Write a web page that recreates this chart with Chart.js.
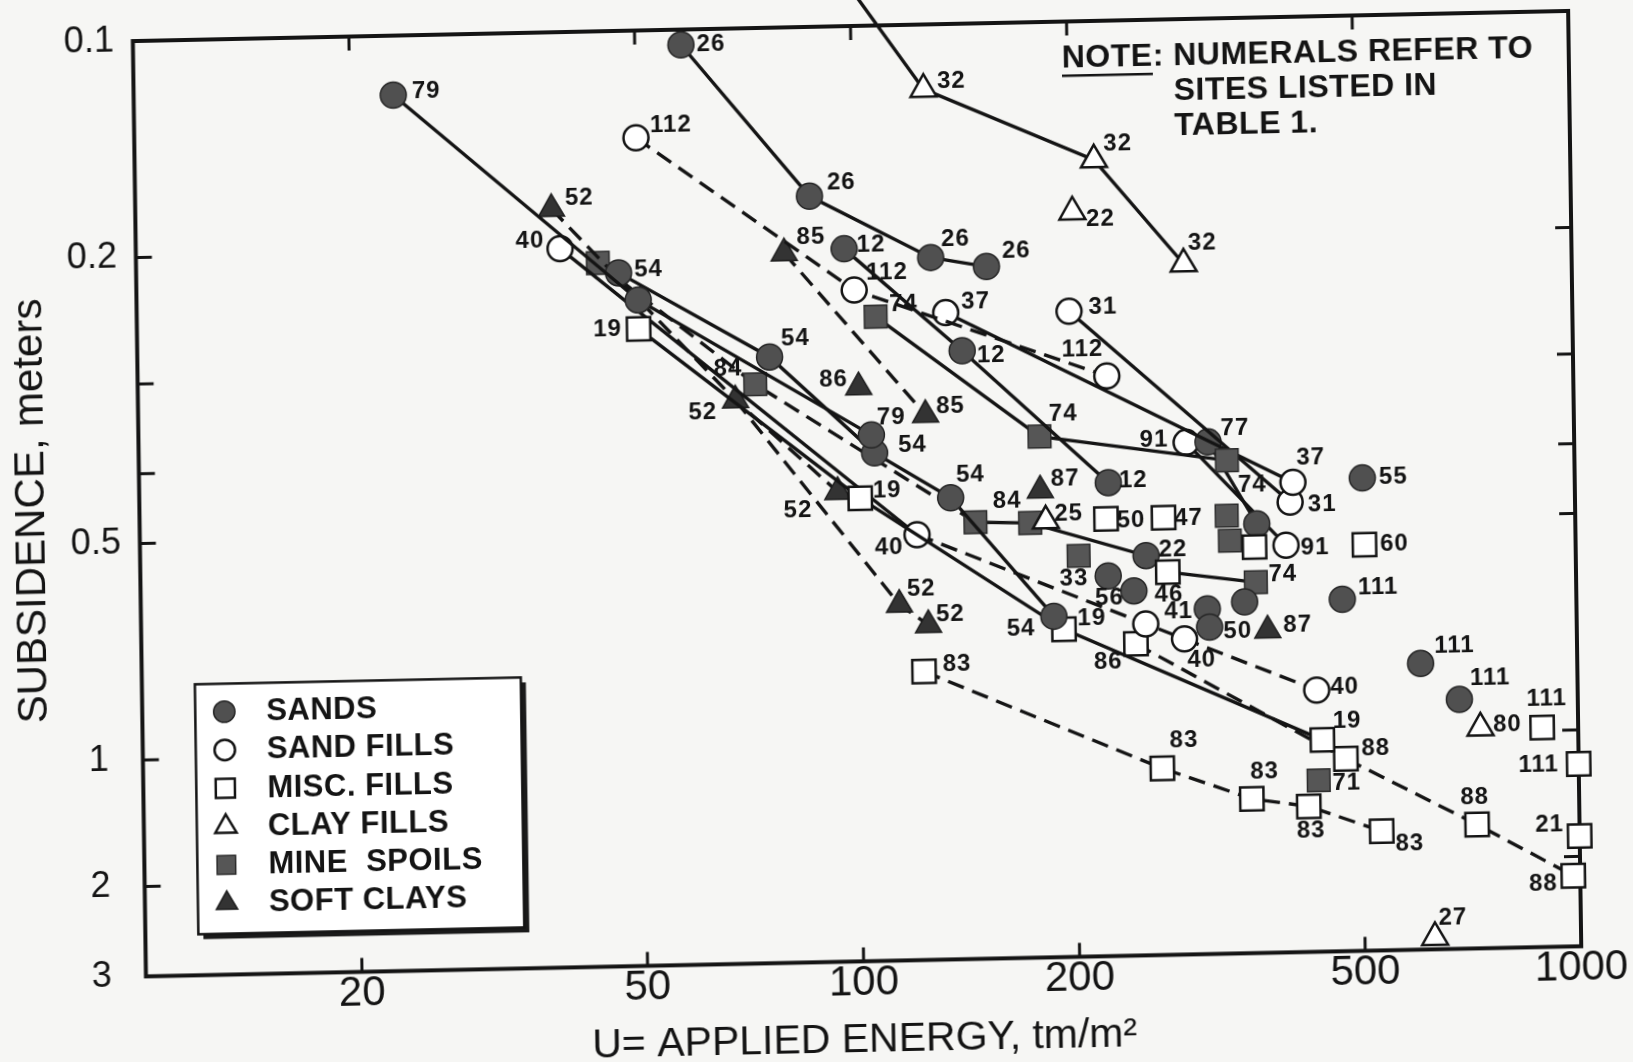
<!DOCTYPE html>
<html>
<head>
<meta charset="utf-8">
<script src="https://cdn.jsdelivr.net/npm/chart.js@4.4.0/dist/chart.umd.min.js"></script>
<style>
html, body { margin: 0; padding: 0; overflow: hidden; background: #f6f6f4; }
#wrap { position: relative; width: 1633px; height: 1062px; overflow: hidden; }
/* la figura original está escaneada ligeramente girada / sesgada */
#c { position: absolute; left: 0; top: 0; transform-origin: 858px 491px; transform: matrix(1, -0.021, 0.014, 1, 0, 0); }
</style>
</head>
<body>
<div id="wrap"><canvas id="c" width="1633" height="1062"></canvas></div>
<script>
// ===== Datos: [energía U (tm/m²), asentamiento (m)] =====
const xTicks = [20, 50, 100, 200, 500, 1000];
const yTicks = [0.1, 0.2, 0.5, 1, 2, 3];
const xMarks = [20, 50, 100, 200, 500];
const yMarks = [0.2, 0.3, 0.4, 0.5, 1, 2];

const site26 = [[58, 0.105], [87, 0.172], [128, 0.211], [153, 0.218]];
const site32 = [[102, 0.091], [126, 0.123], [217, 0.156], [288, 0.219]];
const site112 = [[50, 0.141], [100, 0.233], [224, 0.312]];
const site85 = [[80, 0.206], [125, 0.349]];
const site12 = [[97, 0.204], [141, 0.285], [224, 0.439]];
const site74 = [[107, 0.254], [180, 0.377], [328, 0.412]];
const site37 = [[134, 0.252], [405, 0.444]];
const site31 = [[199, 0.253], [401, 0.473]];
const site79 = [[23, 0.121], [50, 0.237], [105, 0.371]];
const site54 = [[47, 0.217], [76, 0.287], [106, 0.393], [135, 0.456], [187, 0.671]];
const site19 = [[50, 0.26], [101, 0.454], [193, 0.70], [440, 1.03]];
const site40 = [[39, 0.20], [121, 0.512], [284, 0.728], [433, 0.865]];
const site52a = [[38, 0.176], [68, 0.329], [94, 0.444]];
const site52b = [[68, 0.329], [114, 0.64], [125, 0.684]];
const site84 = [[44, 0.21], [72.5, 0.313], [146, 0.494]];
const chain84 = [[146, 0.494], [174, 0.497], [252, 0.556], [270, 0.587], [358, 0.61]];
const site83 = [[123, 0.794], [263, 1.20], [350, 1.44], [420, 1.51], [530, 1.73]];
const site88 = [[474, 1.16], [720, 1.69], [978, 2.19]];
const site86 = [[243, 0.737], [474, 1.16]];
const site77 = [[309, 0.388], [360, 0.506]];
const site91 = [[288, 0.388], [395, 0.543]];

// puntos sueltos, por tipo de suelo
const sandPts = [[506, 0.44], [223, 0.592], [242, 0.622], [345, 0.649], [306, 0.662], [308, 0.702], [472, 0.648], [605, 0.80], [684, 0.90]];
const sandTags = ['55', '56', '46', '', '', '50', '111', '111', '111'];
const sandFillPts = [[251, 0.692]];
const sandFillTags = ['41'];
const miscPts = [[222, 0.493], [267, 0.493], [357, 0.545], [508, 0.545], [1000, 1.23], [891, 0.99], [1000, 1.81]];
const miscTags = ['50', '47', '', '60', '111', '111', '21'];
const clayPts = [[202, 0.184], [183, 0.494], [731, 0.987], [626, 2.85]];
const clayTags = ['22', '25', '80', '27'];
const minePts = [[327, 0.492], [330, 0.533], [203, 0.554], [434, 1.31]];
const mineTags = ['', '', '33', '71'];
const softPts = [[101, 0.318], [180, 0.448], [371, 0.712]];
const softTags = ['86', '87', '87'];

// ===== Estilos =====
const FONT = '"Liberation Sans", Arial, Helvetica, sans-serif';
const INK = '#141414';
const DASH = [17, 9];
const STY = {
    sand:     { shape: 'circle',   r: 13,   fill: '#505050', stroke: '#262626', bw: 1.5 },
    sandfill: { shape: 'circle',   r: 12.5, fill: '#ffffff', stroke: INK, bw: 2.5 },
    misc:     { shape: 'rect',     r: 16.5, fill: '#ffffff', stroke: INK, bw: 2.5 },
    clay:     { shape: 'triangle', r: 15,   fill: '#ffffff', stroke: INK, bw: 2.5 },
    mine:     { shape: 'rect',     r: 16,   fill: '#565656', stroke: '#2b2b2b', bw: 1.5 },
    soft:     { shape: 'triangle', r: 15,   fill: '#333333', stroke: '#1e1e1e', bw: 1.5 }
};

// eje vertical del original: logarítmico hasta 1 m, comprimido por debajo
function ty(v) { return v <= 1 ? Math.log10(v) : Math.log10((v + 1) / 2); }

const lineDefs = [
    { pts: site26, tag: '26', kind: 'sand', off: [[30, 0], [32, -13], [25, -18], [30, -15]] },
    { pts: site32, tag: '32', kind: 'clay', hide: [0], off: [null, [28, -7], [24, -15], [19, -20]] },
    { pts: site112, tag: '112', kind: 'sandfill', dash: true, off: [[35, -12], [33, -17], [-24, -27]] },
    { pts: site85, tag: '85', kind: 'soft', dash: true, off: [[27, -15], [25, -8]] },
    { pts: site12, tag: '12', kind: 'sand', off: [[27, -3], [29, 5], [25, -2]] },
    { pts: site74, tag: '74', kind: 'mine', off: [[28, -12], [24, -22], [25, 25]] },
    { pts: site37, tag: '37', kind: 'sandfill', off: [[30, -10], [18, -24]] },
    { pts: site31, tag: '31', kind: 'sandfill', off: [[34, -3], [32, 3]] },
    { pts: site79, tag: '79', kind: 'sand', off: [[33, -3], null, [20, -17]] },
    { pts: site54, tag: '54', kind: 'sand', off: [[30, -3], [26, -18], [38, -7], [20, -22], [-33, 12]] },
    { pts: site19, tag: '19', kind: 'misc', off: [[-31, 0], [27, -7], [28, -10], [25, -18]] },
    { pts: site40, tag: '40', kind: 'sandfill', dashFrom: 1, off: [[-30, -8], [-28, 12], [17, 22], [28, -2]] },
    { pts: site52a, tag: '52', kind: 'soft', dash: true, off: [[28, -10], [-33, 12], [-40, 18]] },
    { pts: site52b, tag: '52', kind: 'soft', dash: true, hide: [0], off: [null, [22, -15], [22, -10]] },
    { pts: site84, tag: '84', kind: 'mine', dash: true, off: [null, [-27, -16], [32, -20]] },
    { pts: chain84, tags: ['', '', '22', '', '74'], kinds: ['mine', 'mine', 'sand', 'misc', 'mine'], hide: [0],
      off: [null, null, [27, -5], null, [27, -7]] },
    { pts: site83, tag: '83', kind: 'misc', dash: true, off: [[33, -7], [22, -27], [13, -27], [2, 24], [28, 13]] },
    { pts: site88, tag: '88', kind: 'misc', dash: true, off: [[30, -10], [-2, -27], [-30, 8]] },
    { pts: site86, tag: '86', kind: 'misc', dash: true, hide: [1], off: [[-28, 18], null] },
    { pts: site77, tag: '77', kind: 'sand', off: [[27, -13], null] },
    { pts: site91, tag: '91', kind: 'sandfill', off: [[-32, -3], [29, 3]] }
];

const looseDefs = [
    { pts: sandPts, tags: sandTags, kind: 'sand', off: [[31, 0], [1, 22], [35, 5], null, null, [28, 5], [36, -11], [34, -17], [31, -21]] },
    { pts: sandFillPts, tags: sandFillTags, kind: 'sandfill', off: [[33, -12]] },
    { pts: miscPts, tags: miscTags, kind: 'misc', off: [[25, 2], [25, 1], null, [30, 0], [-40, 0], [5, -28], [-30, -12]] },
    { pts: clayPts, tags: clayTags, kind: 'clay', off: [[28, 8], [23, -6], [27, -3], [18, -19]] },
    { pts: minePts, tags: mineTags, kind: 'mine', off: [null, null, [-5, 23], [28, 3]] },
    { pts: softPts, tags: softTags, kind: 'soft', off: [[-25, -8], [25, -11], [30, -5]] }
];

function buildDataset(def, withLine) {
    const kinds = def.kinds || def.pts.map(() => def.kind);
    const hide = def.hide || [];
    const ds = {
        data: def.pts.map(([x, y]) => ({ x, y: ty(y) })),
        showLine: withLine,
        borderColor: INK,
        borderWidth: 3.4,
        borderDash: def.dash ? DASH : [],
        pointStyle: kinds.map(k => STY[k].shape),
        pointRadius: kinds.map((k, i) => hide.includes(i) ? 0 : STY[k].r),
        pointHoverRadius: kinds.map((k, i) => hide.includes(i) ? 0 : STY[k].r),
        pointBackgroundColor: kinds.map(k => STY[k].fill),
        pointBorderColor: kinds.map(k => STY[k].stroke),
        pointBorderWidth: kinds.map(k => STY[k].bw),
        clip: false,
        tags: def.tags || def.pts.map(() => def.tag),
        off: def.off
    };
    if (def.dashFrom != null) {
        ds.segment = { borderDash: c => c.p0DataIndex >= def.dashFrom ? DASH : [] };
    }
    return ds;
}

const datasets = [
    ...looseDefs.map(d => buildDataset(d, false)),
    ...lineDefs.map(d => buildDataset(d, true))
];

// ===== Marco, marcas interiores, leyenda, nota y rótulos de sitio =====
function drawMarker(ctx, kind, x, y, scale) {
    const s = STY[kind];
    const r = s.r * scale;
    ctx.beginPath();
    if (s.shape === 'circle') ctx.arc(x, y, r, 0, Math.PI * 2);
    else if (s.shape === 'rect') { const h = r * Math.SQRT1_2; ctx.rect(x - h, y - h, 2 * h, 2 * h); }
    else {
        ctx.moveTo(x, y - r);
        ctx.lineTo(x + r * Math.sin(2 * Math.PI / 3), y - r * Math.cos(2 * Math.PI / 3));
        ctx.lineTo(x + r * Math.sin(4 * Math.PI / 3), y - r * Math.cos(4 * Math.PI / 3));
        ctx.closePath();
    }
    ctx.fillStyle = s.fill; ctx.fill();
    ctx.lineWidth = s.bw; ctx.strokeStyle = s.stroke; ctx.stroke();
}

const framePlugin = {
    id: 'frame',
    beforeDatasetsDraw(chart) {
        const { ctx, chartArea: a, scales: { x, y } } = chart;
        ctx.save();
        ctx.strokeStyle = INK;
        ctx.lineWidth = 4;
        ctx.strokeRect(a.left, a.top, a.right - a.left, a.bottom - a.top);
        ctx.lineWidth = 3;
        ctx.beginPath();
        xMarks.forEach(v => {
            const px = x.getPixelForValue(v);
            ctx.moveTo(px, a.top); ctx.lineTo(px, a.top + 14);
            ctx.moveTo(px, a.bottom); ctx.lineTo(px, a.bottom - 14);
        });
        yMarks.forEach(v => {
            const py = y.getPixelForValue(ty(v));
            ctx.moveTo(a.left, py); ctx.lineTo(a.left + 16, py);
            ctx.moveTo(a.right, py); ctx.lineTo(a.right - 16, py);
        });
        ctx.stroke();
        ctx.restore();
    },
    afterDatasetsDraw(chart) {
        const { ctx, chartArea: a } = chart;
        ctx.save();

        // rótulos con el número de sitio
        ctx.font = 'bold 24px ' + FONT;
        ctx.fillStyle = INK;
        ctx.textAlign = 'center';
        ctx.textBaseline = 'middle';
        if ('letterSpacing' in ctx) ctx.letterSpacing = '1px';
        chart.data.datasets.forEach((ds, i) => {
            chart.getDatasetMeta(i).data.forEach((el, j) => {
                const t = ds.tags[j], o = ds.off[j];
                if (t && o) ctx.fillText(t, el.x + o[0], el.y + o[1]);
            });
        });

        // leyenda con sombra
        const lx = a.left + 53, ly = a.bottom - 291, lw = 326, lh = 250;
        ctx.fillStyle = '#1a1a1a';
        ctx.fillRect(lx + 5, ly + 5, lw, lh);
        ctx.fillStyle = '#ffffff';
        ctx.fillRect(lx, ly, lw, lh);
        ctx.lineWidth = 2.5; ctx.strokeStyle = INK;
        ctx.strokeRect(lx, ly, lw, lh);
        const items = [['sand', 'SANDS'], ['sandfill', 'SAND FILLS'], ['misc', 'MISC. FILLS'],
                       ['clay', 'CLAY FILLS'], ['mine', 'MINE  SPOILS'], ['soft', 'SOFT CLAYS']];
        ctx.font = 'bold 31px ' + FONT;
        if ('letterSpacing' in ctx) ctx.letterSpacing = '0.5px';
        ctx.textAlign = 'left';
        items.forEach(([k, txt], i) => {
            const ry = ly + 28 + i * 38.3;
            drawMarker(ctx, k, lx + 29, ry, 0.82);
            ctx.fillStyle = INK;
            ctx.fillText(txt, lx + 71, ry + 1);
        });

        // nota
        ctx.font = 'bold 32px ' + FONT;
        ctx.fillStyle = INK;
        const nx = a.right - 507, ny = a.top + 37;
        ctx.fillText('NOTE', nx, ny);
        const wNote = ctx.measureText('NOTE').width;
        ctx.fillRect(nx, ny + 16, wNote, 2.5);
        ctx.fillText(': ', nx + wNote, ny);
        const sx = nx + wNote + ctx.measureText(': ').width;
        ctx.fillText('NUMERALS REFER TO', sx, ny);
        ctx.fillText('SITES LISTED IN', sx, ny + 35);
        ctx.fillText('TABLE 1.', sx, ny + 70);
        if ('letterSpacing' in ctx) ctx.letterSpacing = '0px';
        ctx.restore();
    }
};

new Chart(document.getElementById('c'), {
    type: 'scatter',
    data: { datasets },
    options: {
        responsive: false,
        animation: false,
        layout: { padding: { top: 26, right: 58, left: 0, bottom: 0 } },
        plugins: { legend: { display: false }, tooltip: { enabled: false } },
        scales: {
            x: {
                type: 'logarithmic',
                min: 10, max: 1000,
                grid: { display: false },
                border: { display: false },
                afterBuildTicks: s => { s.ticks = xTicks.map(v => ({ value: v })); },
                afterFit: s => { s.height = 100.6; s.paddingLeft = 0; s.paddingRight = 0; },
                ticks: { color: INK, font: { family: FONT, size: 42, lineHeight: 1 }, padding: -7, maxRotation: 0, autoSkip: false,
                         callback: v => String(v) },
                title: { display: true, text: 'U= APPLIED ENERGY, tm/m²', color: INK,
                         font: { family: FONT, size: 41, lineHeight: 1 }, padding: { top: 0, bottom: 1 } }
            },
            y: {
                type: 'linear',
                reverse: true,
                min: -1, max: Math.log10(2),
                grid: { display: false },
                border: { display: false },
                afterBuildTicks: s => { s.ticks = yTicks.map(v => ({ value: ty(v) })); },
                afterFit: s => { s.width = 139.4; s.paddingTop = 0; s.paddingBottom = 0; },
                ticks: { color: INK, font: { family: FONT, size: 36 }, padding: 11, autoSkip: false, crossAlign: 'center',
                         callback: (v, i) => String(yTicks[i]) },
                title: { display: true, text: 'SUBSIDENCE, meters', color: INK,
                         font: { family: FONT, size: 42, lineHeight: 1 }, padding: { top: 11, bottom: 0 } }
            }
        }
    },
    plugins: [framePlugin]
});
</script>
</body>
</html>
